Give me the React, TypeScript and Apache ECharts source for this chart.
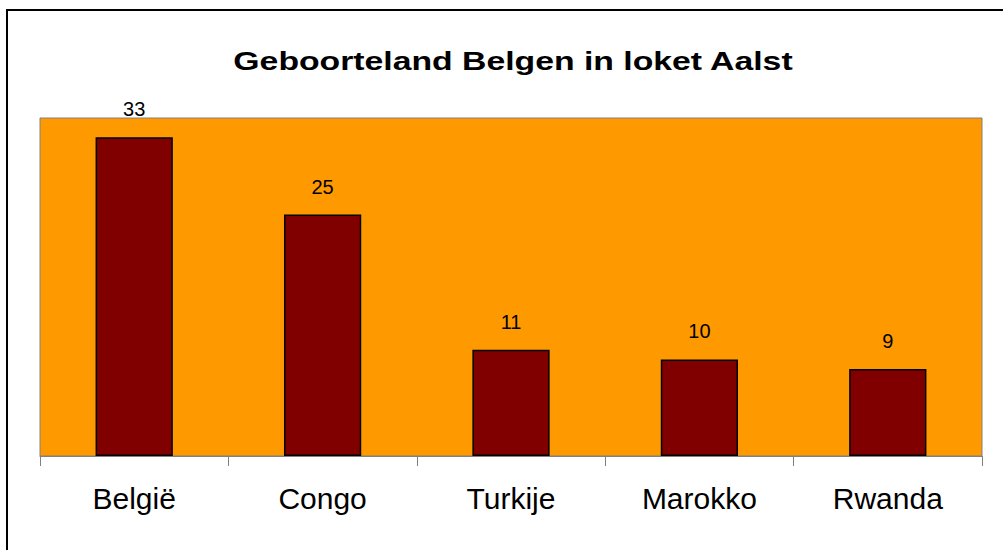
import React, { useEffect, useRef } from "react";
import * as echarts from "echarts";

const categories = ["België", "Congo", "Turkije", "Marokko", "Rwanda"];
const values = [33, 25, 11, 10, 9];
const titleText = "Geboorteland Belgen in loket Aalst";

const FONT = "Liberation Sans, Arial, sans-serif";

export default function App() {
  const ref = useRef<HTMLDivElement>(null);
  useEffect(() => {
    if (!ref.current) return;
    const chart = echarts.init(ref.current, null, { renderer: "svg" });
    chart.setOption({
      animation: false,
      backgroundColor: "#ffffff",
      textStyle: { fontFamily: FONT },
      graphic: [
        {
          type: "text",
          x: 513,
          y: 61,
          scaleX: 1.35,
          style: {
            text: titleText,
            font: "bold 25px " + FONT,
            fill: "#000",
            textAlign: "center",
            textVerticalAlign: "middle",
          },
          silent: true,
          z: 100,
        },
        {
          type: "rect",
          shape: { x: 7, y: 10, width: 1010, height: 560 },
          style: { fill: "none", stroke: "#000", lineWidth: 2 },
          silent: true,
          z: 100,
        },
      ],
      grid: {
        left: 40,
        right: 21,
        top: 118,
        bottom: 94,
        show: true,
        backgroundColor: "#FF9900",
        borderColor: "#808080",
        borderWidth: 1,
      },
      xAxis: {
        type: "category",
        data: categories,
        axisLine: { show: true, lineStyle: { color: "#808080", width: 1 } },
        axisTick: { show: true, length: 10, lineStyle: { color: "#808080" } },
        axisLabel: { color: "#000", fontSize: 30, margin: 27, fontFamily: FONT },
      },
      yAxis: {
        type: "value",
        min: 0,
        max: 35,
        show: false,
        splitLine: { show: false },
      },
      series: [
        {
          type: "bar",
          data: values,
          barWidth: "41%",
          itemStyle: { color: "#800000", borderColor: "#000", borderWidth: 1.5 },
          label: {
            show: true,
            position: "top",
            distance: 18,
            color: "#000",
            fontSize: 20,
            fontFamily: FONT,
          },
        },
      ],
    });
    return () => chart.dispose();
  }, []);
  return <div ref={ref} style={{ width: 1003, height: 550, position: "absolute", left: 0, top: 0 }} />;
}
